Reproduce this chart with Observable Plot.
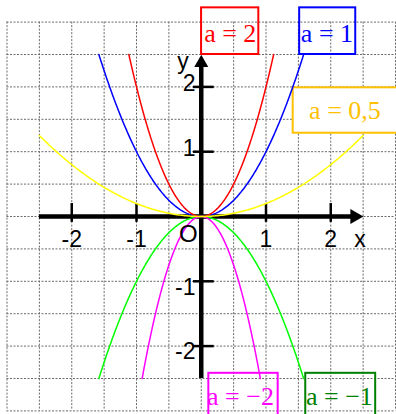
<!DOCTYPE html>
<html>
<head>
<meta charset="utf-8">
<script src="https://cdn.jsdelivr.net/npm/d3@7"></script>
<script src="https://cdn.jsdelivr.net/npm/@observablehq/plot@0.6"></script>
<style>
  html, body { margin: 0; padding: 0; background: #fff; }
  #chart svg { display: block; overflow: visible; }
</style>
</head>
<body>
<div id="chart"></div>
<script>
// ---- data ----
const coeffs = [2, 1, 0.2, -1, -3];                 // y = a·x² (as drawn)
const curveColors = ["#ff0000", "#0000ff", "#ffff00", "#00ff00", "#ff00ff"];
const labelTexts = ["a = 2", "a = 1", "a = 0,5", "a = \u22122", "a = \u22121"];
const labelColors = ["#ff0000", "#0000ff", "#ffc000", "#ff00ff", "#008000"];
const xTickValues = [-2, -1, 1, 2];
const xTickLabels = ["-2", "-1", "1", "2"];
const yTickValues = [-2, -1, 1, 2];
const yTickLabels = ["-2", "-1", "1", "2"];
const gridValues = [-3, -2.5, -2, -1.5, -1, -0.5, 0, 0.5, 1, 1.5, 2, 2.5, 3];
const yLimit = 2.5, xLimit = 2.5;

// ---- layout (data coordinates) ----
const boxLayout = [
  {x1: 0.005, x2: 0.889, y1: 3.22, y2: 2.5, tx: 0.448, ty: 2.818, fill: "none"},
  {x1: 1.52,  x2: 2.386, y1: 3.22, y2: 2.5, tx: 1.941, ty: 2.818, fill: "none"},
  {x1: 1.42,  x2: 3.05,  y1: 1.986, y2: 1.285, tx: 2.219, ty: 1.64, fill: "white"},
  {x1: 0.117, x2: 1.188, y1: -2.42, y2: -3.2, tx: 0.606, ty: -2.784, fill: "none"},
  {x1: 1.614, x2: 2.694, y1: -2.42, y2: -3.2, tx: 2.134, ty: -2.784, fill: "none"}
];
const boxes = labelTexts.map((t, i) => ({text: t, color: labelColors[i], ...boxLayout[i]}));

// curve samples
const curves = [];
coeffs.forEach((a, i) => {
  const xm = Math.min(xLimit, Math.sqrt(yLimit / Math.abs(a)));
  const n = 200;
  for (let k = 0; k <= n; k++) {
    const x = -xm + 2 * xm * k / n;
    curves.push({x, y: a * x * x, c: i});
  }
});
const order = [1, 0, 3, 4, 2];
const curveMarks = order.map(i =>
  Plot.line(curves.filter(d => d.c === i), {x: "x", y: "y", stroke: curveColors[i], strokeWidth: 1.5})
);

const sans = "Liberation Sans, Arial, sans-serif";
const serif = "Liberation Serif, Times New Roman, serif";

const chart = Plot.plot({
  width: 396,
  height: 414,
  marginLeft: 6.5,
  marginRight: 1,
  marginTop: 21.6,
  marginBottom: 3.6,
  x: {domain: [-3, 3], axis: null},
  y: {domain: [-3, 3], axis: null},
  style: {background: "white", overflow: "visible"},
  marks: [
    Plot.ruleX(gridValues, {stroke: "#6a6a6a", strokeWidth: 1, strokeDasharray: "2,1.5"}),
    Plot.ruleY(gridValues, {stroke: "#6a6a6a", strokeWidth: 1, strokeDasharray: "2,1.5"}),
    Plot.rect(boxes, {x1: "x1", x2: "x2", y1: "y1", y2: "y2", fill: "fill", stroke: "color", strokeWidth: 2}),
    // axes
    Plot.ruleY([0], {x1: -2.5, x2: 2.36, stroke: "black", strokeWidth: 4.5}),
    Plot.ruleX([0], {y1: -2.5, y2: 2.36, stroke: "black", strokeWidth: 4.5}),
    Plot.ruleX(xTickValues, {y1: -0.09, y2: 0.2, stroke: "black", strokeWidth: 2.5}),
    Plot.ruleY(yTickValues, {x1: -0.12, x2: 0.2, stroke: "black", strokeWidth: 2.5}),
    Plot.dot([0], {x: 2.37, y: 0, symbol: "triangle", r: 5.6, fill: "black", stroke: null, rotate: 90}),
    Plot.dot([0], {x: 0, y: 2.37, symbol: "triangle", r: 5.2, fill: "black", stroke: null}),
    ...curveMarks,
    // axis labels
    Plot.text(xTickValues, {x: d => d, y: -0.35, text: (d, i) => xTickLabels[i], fontSize: 23, fontFamily: sans, fill: "black"}),
    Plot.text(yTickValues, {x: -0.09, y: d => d + (d > 0 ? 0.05 : -0.09), text: (d, i) => yTickLabels[i], textAnchor: "end", fontSize: 23, fontFamily: sans, fill: "black"}),
    Plot.text(["x"], {x: 2.45, y: -0.35, fontSize: 23, fontFamily: sans, fill: "black"}),
    Plot.text(["y"], {x: -0.28, y: 2.39, fontSize: 23, fontFamily: sans, fill: "black"}),
    Plot.text(["O"], {x: -0.2, y: -0.28, fontSize: 24, fontFamily: sans, fill: "black"}),
    // curve labels
    Plot.text(boxes, {x: "tx", y: "ty", text: "text", fill: "color", fontSize: 26, fontFamily: serif})
  ]
});
document.getElementById("chart").appendChild(chart);
</script>
</body>
</html>
